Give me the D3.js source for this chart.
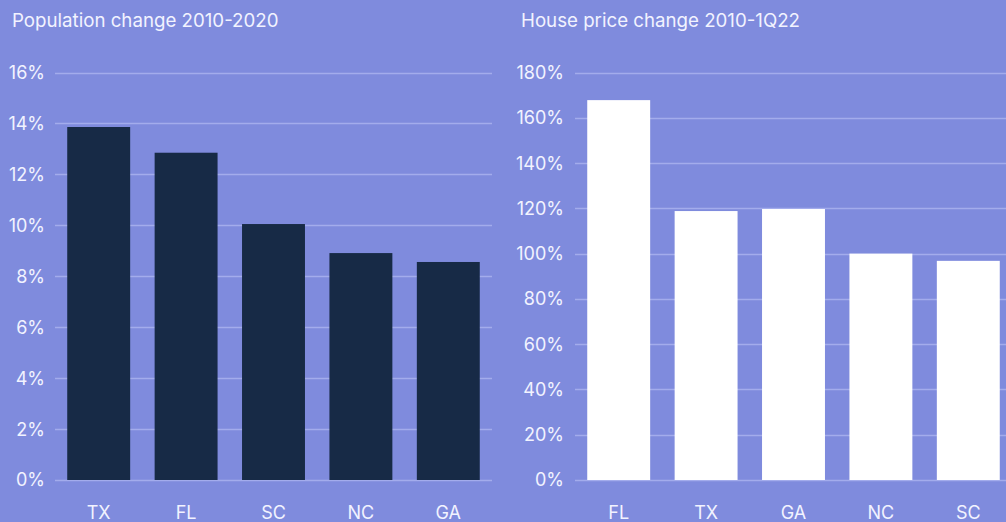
<!DOCTYPE html>
<html>
<head>
<meta charset="utf-8">
<script src="https://cdn.jsdelivr.net/npm/d3@7"></script>
<style>
    html, body { margin: 0; padding: 0; background: #7f8bdd; }
    svg { display: block; }
    text { font-family: Inter, "Noto Sans", sans-serif; fill: #f2f3ff; }
</style>
</head>
<body>
<div id="chart"></div>
<script>

// population change 2010-2020
var popStates = ["TX", "FL", "SC", "NC", "GA"];
var popValues = [13.86, 12.85, 10.05, 8.91, 8.56];
var popTicks = [0, 2, 4, 6, 8, 10, 12, 14, 16];

// house price change 2010-1Q22
var priceStates = ["FL", "TX", "GA", "NC", "SC"];
var priceValues = [167.8, 118.8, 119.7, 100, 96.8];
var priceTicks = [0, 20, 40, 60, 80, 100, 120, 140, 160, 180];

var svgWidth = 1006,
    svgHeight = 522;

var svg = d3.select("#chart").append("svg")
    .attr("width", svgWidth)
    .attr("height", svgHeight);

function drawPanel(opts) {
// draws one bar panel

    var yScale = d3.scaleLinear()
        .domain([0, opts.max])
        .range([480, 72.5]);

    var xScale = d3.scaleBand()
        .domain(opts.cats)
        .range([opts.left, opts.right])
        .paddingInner(0.28)
        .paddingOuter(0.14);

    var g = svg.append("g");

    // gridlines
    g.selectAll("line.grid")
        .data(opts.ticks)
        .enter().append("line")
        .attr("class", "grid")
        .attr("x1", opts.left)
        .attr("x2", opts.right)
        .attr("y1", d => Math.round(yScale(d)) + 0.5)
        .attr("y2", d => Math.round(yScale(d)) + 0.5)
        .attr("stroke", "#a3acec")
        .attr("stroke-width", 1.5);

    // y tick labels
    g.selectAll("text.ytick")
        .data(opts.ticks)
        .enter().append("text")
        .attr("class", "ytick")
        .attr("x", opts.labelX)
        .attr("y", d => yScale(d))
        .attr("dy", "0.36em")
        .attr("text-anchor", "end")
        .attr("font-size", 18)
        .text(d => d + "%");

    // bars
    g.selectAll("rect.bar")
        .data(opts.values)
        .enter().append("rect")
        .attr("class", "bar")
        .attr("x", (d, i) => xScale(opts.cats[i]))
        .attr("y", d => yScale(d))
        .attr("width", xScale.bandwidth())
        .attr("height", d => yScale(0) - yScale(d))
        .attr("fill", opts.color);

    // x labels
    g.selectAll("text.xtick")
        .data(opts.cats)
        .enter().append("text")
        .attr("class", "xtick")
        .attr("x", d => xScale(d) + xScale.bandwidth() / 2)
        .attr("y", 519)
        .attr("text-anchor", "middle")
        .attr("font-size", 18)
        .text(d => d);

    // title
    g.append("text")
        .attr("x", opts.titleX)
        .attr("y", 27)
        .attr("font-size", 18.7)
        .text(opts.title);
};

drawPanel({
    cats: popStates,
    values: popValues,
    ticks: popTicks,
    max: 16,
    left: 55,
    right: 492,
    labelX: 45,
    titleX: 12,
    color: "#172a46",
    title: "Population change 2010-2020"
});

drawPanel({
    cats: priceStates,
    values: priceValues,
    ticks: priceTicks,
    max: 180,
    left: 575,
    right: 1012,
    labelX: 564,
    titleX: 521,
    color: "#ffffff",
    title: "House price change 2010-1Q22"
});

</script>
</body>
</html>
